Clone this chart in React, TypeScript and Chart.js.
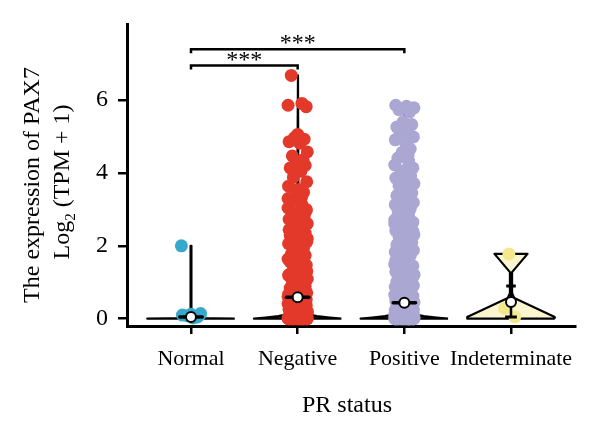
import React, { useEffect, useRef } from 'react';
import { Chart, registerables } from 'chart.js';

Chart.register(...registerables);

const SERIF = "'Liberation Serif', 'Times New Roman', Times, serif";

// Groups along the x axis
const CATEGORIES = ['Normal', 'Negative', 'Positive', 'Indeterminate'];
const GROUP_COLORS = ['#36a8cb', '#e3392b', '#aaa8d3', '#f4e88e'];
const VIOLIN_FILLS = [
  'rgba(54,168,203,0.25)',
  'rgba(40,20,20,0.9)',
  'rgba(40,40,50,0.9)',
  'rgba(251,245,205,0.95)',
];

const Y_TICKS = [0, 2, 4, 6];
const X_TITLE = 'PR status';
const Y_TITLE_LINE1 = 'The expression of PAX7';
const Y_TITLE_LINE2 = ['Log', '2', ' (TPM + 1)'];

// Expression values, log2(TPM + 1), one array per PR status group
const NORMAL_VALUES = [2.0, 0.1, 0.12, 0.08, 0.05, 0.1, 0.02, 0.14];

const NEGATIVE_VALUES = [
  6.68,
  5.91, 5.86, 5.82,
  5.06, 4.97, 4.93, 4.86, 4.82,
  4.58, 4.47, 4.36, 4.29, 4.21, 4.14, 4.05,
  3.88, 3.76, 3.64, 3.55, 3.47, 3.39, 3.33,
  3.21, 3.13, 3.04, 2.97, 2.91, 2.84, 2.79, 2.73, 2.66,
  2.61, 2.53, 2.47, 2.41, 2.35, 2.29, 2.23, 2.17, 2.11, 2.06, 1.99, 1.94, 1.89, 1.83, 1.77, 1.71, 1.64,
  1.47, 1.41, 1.35, 1.27, 1.21, 1.16, 1.09, 1.04, 0.99, 0.94, 0.89, 0.84, 0.81, 0.75, 0.71, 0.67,
  0.63, 0.58, 0.55, 0.51, 0.47, 0.44, 0.41, 0.37, 0.34, 0.31, 0.28, 0.25, 0.22, 0.2, 0.17, 0.15,
  0.13, 0.11, 0.1, 0.08, 0.07, 0.06, 0.05, 0.04, 0.03, 0.025, 0.02, 0.015, 0.01, 0.007, 0.004, 0.002,
  0, 0, 0, 0, 0, 0, 0, 0, 0, 0, 0, 0, 0, 0, 0, 0, 0, 0, 0, 0,
  3.3, 3.0, 2.88, 2.7, 2.57, 2.44, 2.32, 2.2, 2.08, 1.96, 1.86, 1.74, 1.56, 1.52, 1.38, 1.3,
  1.19, 1.12, 1.0, 0.92, 0.86, 0.78, 0.69, 0.6, 0.53, 0.45, 0.39, 0.33, 0.27, 0.21, 0.16, 0.12,
  0.09, 0.06, 0.04, 0.02, 0.01, 0, 0, 0, 0, 0,
];

const POSITIVE_VALUES = [
  5.86, 5.83, 5.79, 5.74, 5.68,
  5.41, 5.33, 5.26, 5.18,
  5.08, 4.99, 4.91, 4.84,
  4.66, 4.57, 4.49, 4.41, 4.33,
  4.22, 4.14, 4.07, 3.99, 3.92, 3.86,
  3.79, 3.71, 3.65, 3.58, 3.51, 3.45, 3.38, 3.31, 3.25, 3.19, 3.13, 3.07, 3.01, 2.95, 2.89, 2.83,
  2.77, 2.71, 2.65, 2.59, 2.53, 2.47, 2.42, 2.36, 2.31, 2.25, 2.2, 2.14, 2.09, 2.03, 1.98, 1.93,
  1.88, 1.83, 1.78, 1.73, 1.68, 1.63, 1.58, 1.54, 1.49, 1.45, 1.41, 1.37, 1.33, 1.29, 1.25, 1.21,
  1.17, 1.13, 1.09, 1.05, 1.02, 0.98, 0.94, 0.91, 0.87, 0.84, 0.8, 0.77, 0.74, 0.71, 0.68, 0.65,
  0.62, 0.59, 0.56, 0.53, 0.5, 0.47, 0.45, 0.42, 0.39, 0.37, 0.34, 0.32, 0.29, 0.27, 0.25, 0.23,
  0.21, 0.19, 0.17, 0.15, 0.13, 0.12, 0.1, 0.09, 0.08, 0.07, 0.06, 0.05, 0.04, 0.035, 0.03, 0.025,
  0.02, 0.015, 0.01, 0.007, 0.004, 0.002,
  0, 0, 0, 0, 0, 0, 0, 0, 0, 0, 0, 0, 0, 0, 0, 0, 0, 0, 0, 0, 0, 0, 0, 0, 0,
  3.6, 3.4, 3.2, 3.0, 2.8, 2.6, 2.4, 2.2, 2.0, 1.8, 1.6, 1.4, 1.2, 1.0, 0.85, 0.7, 0.55, 0.4,
  0.3, 0.2, 0.12, 0.06, 0.03, 0, 0, 0, 0, 0,
];

const INDETERMINATE_VALUES = [1.78, 0.05, 0.28];

const GROUP_VALUES = [NORMAL_VALUES, NEGATIVE_VALUES, POSITIVE_VALUES, INDETERMINATE_VALUES];

// Horizontal jitter (category units) cycled over the points of each group
const JITTER = [
  -0.06, 0.04, -0.09, 0.08, 0.0, -0.03, 0.06, -0.08, 0.02, 0.09, -0.05, 0.05,
  -0.01, 0.07, -0.07, 0.03, -0.04, 0.085, -0.085, 0.01, 0.055, -0.02, 0.035,
];
const JITTER_PHASE = [2, 0, 7, 21];

// Box summary: medians, plus whisker of the small group
const MEDIANS = [0.05, 0.59, 0.44, 0.46];
const WHISKER_GROUP = 4;
const WHISKER_RANGE = [0.05, 0.9];

// Violin outlines: [value, half width in category units]
const VIOLIN_PROFILES = [
  [[0, 0.41], [0.02, 0.03], [0.06, 0.004], [2.0, 0.004]],
  [[0, 0.41], [0.03, 0.3], [0.07, 0.18], [0.12, 0.1], [0.2, 0.04], [0.35, 0.01], [6.68, 0.003]],
  [[0, 0.41], [0.03, 0.3], [0.07, 0.18], [0.12, 0.1], [0.2, 0.04], [0.35, 0.01], [5.86, 0.003]],
  [[0, 0.41], [0.05, 0.41], [0.57, 0.03], [0.7, 0.01], [1.28, 0.01], [1.78, 0.155]],
];

// Significance brackets between groups
const BRACKETS = [
  { from: 1, to: 3, y: 7.4, drop: 0.11, label: '***' },
  { from: 1, to: 2, y: 6.95, drop: 0.11, label: '***' },
];

function buildDatasets() {
  const ds: any[] = [];
  const line = (data: { x: number; y: number }[], width: number, order: number, extra: any = {}) => ({
    data,
    showLine: true,
    borderColor: '#000',
    borderWidth: width,
    pointRadius: 0,
    fill: false,
    tension: 0,
    borderJoinStyle: 'round',
    borderCapStyle: 'butt',
    order,
    ...extra,
  });

  BRACKETS.forEach((b) => {
    ds.push(
      line(
        [
          { x: b.from, y: b.y - b.drop },
          { x: b.from, y: b.y },
          { x: b.to, y: b.y },
          { x: b.to, y: b.y - b.drop },
        ],
        2.5,
        0,
        { borderJoinStyle: 'miter' }
      )
    );
  });

  ds.push({
    data: MEDIANS.map((m, i) => ({ x: i + 1, y: m })),
    showLine: false,
    pointRadius: 5,
    pointBackgroundColor: '#ffffff',
    pointBorderColor: '#000',
    pointBorderWidth: 2,
    order: 1,
  });

  MEDIANS.forEach((m, i) => {
    if (i + 1 === WHISKER_GROUP) return;
    ds.push(line([{ x: i + 1 - 0.105, y: m }, { x: i + 1 + 0.105, y: m }], 3.5, 2, { borderCapStyle: 'round' }));
  });

  const wc = WHISKER_GROUP;
  ds.push(line([{ x: wc, y: WHISKER_RANGE[0] }, { x: wc, y: WHISKER_RANGE[1] }], 2.5, 3));
  ds.push(line([{ x: wc - 0.055, y: WHISKER_RANGE[0] }, { x: wc + 0.055, y: WHISKER_RANGE[0] }], 3, 3));
  ds.push(line([{ x: wc - 0.045, y: WHISKER_RANGE[1] }, { x: wc + 0.045, y: WHISKER_RANGE[1] }], 3, 3));

  GROUP_VALUES.forEach((vals, g) => {
    ds.push({
      data: vals.map((v, i) => ({ x: g + 1 + JITTER[(i + JITTER_PHASE[g]) % JITTER.length], y: v })),
      showLine: false,
      pointRadius: 6.5,
      pointBackgroundColor: GROUP_COLORS[g],
      pointBorderColor: GROUP_COLORS[g],
      pointBorderWidth: 0,
      order: 5,
    });
  });

  VIOLIN_PROFILES.forEach((prof, g) => {
    const c = g + 1;
    const right = prof.map(([v, w]) => ({ x: c + w, y: v }));
    const left = prof.slice().reverse().map(([v, w]) => ({ x: c - w, y: v }));
    const poly = [...right, ...left, right[0]];
    ds.push(line(poly, 2.2, 6, { fill: 'shape', backgroundColor: VIOLIN_FILLS[g] }));
  });

  return ds;
}

const textPlugin = {
  id: 'prTexts',
  afterDatasetsDraw(chart: any) {
    const { ctx, scales } = chart;
    const x = scales.x;
    const y = scales.y;
    ctx.save();
    ctx.fillStyle = '#000';
    ctx.font = `24px ${SERIF}`;
    ctx.textAlign = 'center';
    ctx.textBaseline = 'alphabetic';
    BRACKETS.forEach((b) => {
      ctx.fillText(b.label, x.getPixelForValue((b.from + b.to) / 2), y.getPixelForValue(b.y) + 1);
    });
    ctx.restore();
  },
  afterDraw(chart: any) {
    const { ctx, chartArea } = chart;
    ctx.save();
    ctx.fillStyle = '#000';
    ctx.textBaseline = 'alphabetic';

    // x axis title
    ctx.font = `24px ${SERIF}`;
    ctx.textAlign = 'center';
    ctx.fillText(X_TITLE, (chartArea.left + chartArea.right) / 2 - 4, 412);

    // y axis title, two rotated lines
    ctx.font = `24px ${SERIF}`;
    ctx.save();
    ctx.translate(39, 185);
    ctx.rotate(-Math.PI / 2);
    ctx.fillText(Y_TITLE_LINE1, 0, 0);
    ctx.restore();

    ctx.save();
    ctx.translate(69, 182);
    ctx.rotate(-Math.PI / 2);
    ctx.textAlign = 'left';
    const big = `24px ${SERIF}`;
    const small = `15px ${SERIF}`;
    ctx.font = big;
    const w0 = ctx.measureText(Y_TITLE_LINE2[0]).width;
    const w2 = ctx.measureText(Y_TITLE_LINE2[2]).width;
    ctx.font = small;
    const w1 = ctx.measureText(Y_TITLE_LINE2[1]).width;
    let cx = -(w0 + w1 + w2) / 2;
    ctx.font = big;
    ctx.fillText(Y_TITLE_LINE2[0], cx, 0);
    cx += w0;
    ctx.font = small;
    ctx.fillText(Y_TITLE_LINE2[1], cx, 6);
    cx += w1;
    ctx.font = big;
    ctx.fillText(Y_TITLE_LINE2[2], cx, 0);
    ctx.restore();

    ctx.restore();
  },
};

export default function App() {
  const canvasRef = useRef<HTMLCanvasElement | null>(null);

  useEffect(() => {
    const canvas = canvasRef.current;
    if (!canvas) return;
    Chart.defaults.font.family = SERIF;

    const axisCommon = {
      border: { display: true, color: '#000', width: 3 },
    };

    const chart = new Chart(canvas, {
      type: 'scatter',
      data: { datasets: buildDatasets() },
      options: {
        animation: false,
        responsive: false,
        devicePixelRatio: 1,
        events: [],
        layout: { padding: { top: 20, right: 25, left: 0, bottom: 0 } },
        plugins: { legend: { display: false }, tooltip: { enabled: false } },
        scales: {
          x: {
            type: 'linear',
            position: 'bottom',
            min: 0.4,
            max: 4.6,
            ...axisCommon,
            grid: { display: true, drawOnChartArea: false, drawTicks: true, tickLength: 8, color: '#000', lineWidth: 2.5 },
            ticks: {
              color: '#000',
              font: { family: SERIF, size: 22 },
              padding: 12,
              autoSkip: false,
              maxRotation: 0,
              minRotation: 0,
              callback: (v: any) => CATEGORIES[Number(v) - 1] ?? '',
            },
            afterBuildTicks: (s: any) => {
              s.ticks = CATEGORIES.map((_, i) => ({ value: i + 1 }));
            },
            afterFit: (s: any) => {
              s.height = 106;
            },
          },
          y: {
            type: 'linear',
            min: -0.2,
            max: 8.08,
            ...axisCommon,
            grid: { display: true, drawOnChartArea: false, drawTicks: true, tickLength: 9, color: '#000', lineWidth: 2.5 },
            ticks: {
              color: '#000',
              font: { family: SERIF, size: 24 },
              padding: 10,
              callback: (v: any) => String(v),
            },
            afterBuildTicks: (s: any) => {
              s.ticks = Y_TICKS.map((v) => ({ value: v }));
            },
            afterFit: (s: any) => {
              s.width = 127;
            },
          },
        },
      } as any,
      plugins: [textPlugin],
    });

    return () => chart.destroy();
  }, []);

  return (
    <div style={{ position: 'fixed', left: 0, top: 0, width: 600, height: 432, background: '#fff' }}>
      <canvas ref={canvasRef} width={600} height={432} style={{ display: 'block' }} />
    </div>
  );
}
